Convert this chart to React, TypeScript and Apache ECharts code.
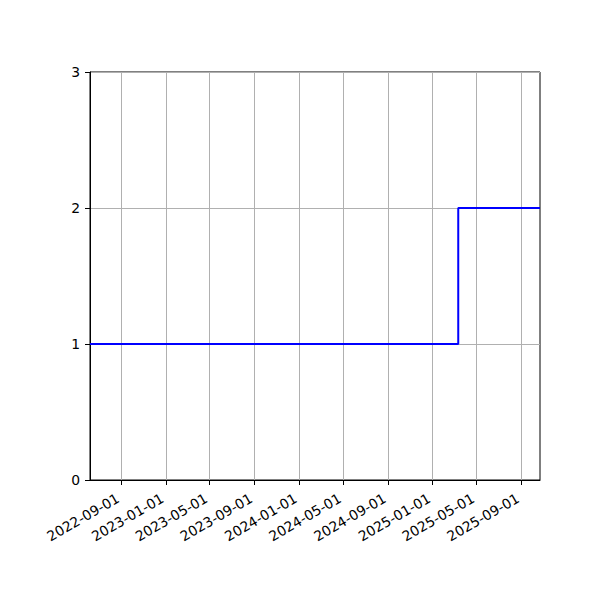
import React, { useEffect, useRef } from "react";
import * as echarts from "echarts";

const stepDates = ["2022-06-07", "2025-03-12", "2025-10-22"];
const stepValues = [1, 2, 2];
const xTickDates = [
  "2022-09-01", "2023-01-01", "2023-05-01", "2023-09-01", "2024-01-01",
  "2024-05-01", "2024-09-01", "2025-01-01", "2025-05-01", "2025-09-01",
];
const yTicks = [0, 1, 2, 3];
const xStart = "2022-06-07";
const xEnd = "2025-10-22";

const toMs = (s: string) => {
  const [y, m, d] = s.split("-").map(Number);
  return Date.UTC(y, m - 1, d);
};
const pad = (n: number) => (n < 10 ? "0" + n : "" + n);
const fmt = (v: number) => {
  const d = new Date(v);
  return `${d.getUTCFullYear()}-${pad(d.getUTCMonth() + 1)}-${pad(d.getUTCDate())}`;
};

export default function App() {
  const ref = useRef<HTMLDivElement>(null);
  useEffect(() => {
    document.body.style.margin = "0";
    const chart = echarts.init(ref.current!, null, { renderer: "svg" });
    const tickMs = xTickDates.map(toMs);
    const font = "DejaVu Sans";
    chart.setOption({
      animation: false,
      backgroundColor: "#ffffff",
      grid: {
        left: 90,
        right: 60,
        top: 72,
        bottom: 120,
        show: true,
        borderColor: "#000000",
        borderWidth: 1,
        backgroundColor: "transparent",
        containLabel: false,
      },
      xAxis: {
        type: "value",
        min: toMs(xStart),
        max: toMs(xEnd),
        axisLine: { show: true, onZero: false, lineStyle: { color: "#000", width: 1 } },
        axisTick: {
          show: true,
          inside: false,
          length: 5,
          customValues: tickMs,
          lineStyle: { color: "#000", width: 1 },
        },
        axisLabel: {
          show: true,
          customValues: tickMs,
          rotate: 30,
          margin: 15,
          padding: [0, 4, 0, 0],
          color: "#000",
          fontFamily: font,
          fontSize: 13.9,
          hideOverlap: false,
          showMinLabel: true,
          showMaxLabel: true,
          formatter: (v: number) => fmt(v),
        },
        splitLine: { show: true, lineStyle: { color: "#b0b0b0", width: 1 } },
      },
      yAxis: {
        type: "value",
        min: 0,
        max: 3,
        interval: 1,
        axisLine: { show: true, lineStyle: { color: "#000", width: 1 } },
        axisTick: { show: true, inside: false, length: 5, lineStyle: { color: "#000", width: 1 } },
        axisLabel: {
          color: "#000",
          fontFamily: font,
          fontSize: 13.9,
          margin: 10,
          formatter: (v: number) => (yTicks.includes(v) ? String(v) : ""),
        },
        splitLine: { show: true, lineStyle: { color: "#b0b0b0", width: 1 } },
      },
      series: [
        {
          type: "line",
          step: "end",
          symbol: "none",
          data: stepDates.map((d, i) => [toMs(d), stepValues[i]]),
          lineStyle: { color: "#0000ff", width: 2 },
          z: 5,
        },
      ],
    });
    return () => chart.dispose();
  }, []);
  return (
    <div
      ref={ref}
      style={{ position: "absolute", left: 0, top: 0, width: 600, height: 600 }}
    />
  );
}
